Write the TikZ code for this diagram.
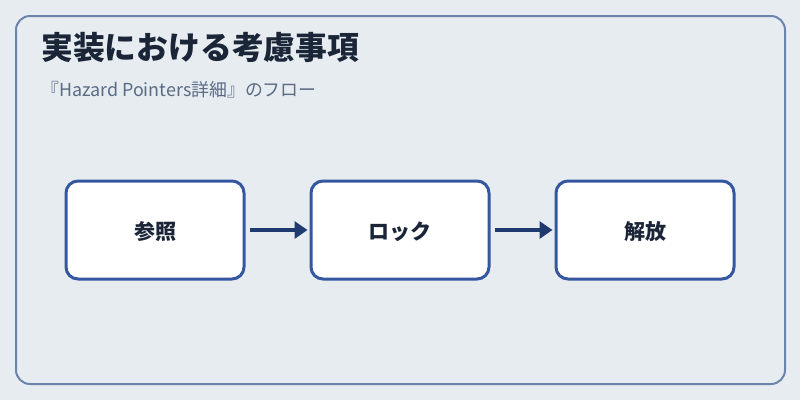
\documentclass[tikz,border=0pt]{standalone}
\usepackage{fontspec}
\setmainfont{Noto Sans CJK JP}
\usetikzlibrary{arrows.meta}
\definecolor{bgc}{HTML}{E7ECF1}
\definecolor{framec}{HTML}{6B84AE}
\definecolor{boxc}{HTML}{3557A0}
\definecolor{txtc}{HTML}{1A2538}
\definecolor{subc}{HTML}{5A6B85}
\definecolor{arrc}{HTML}{1F3A6E}
\tikzset{
  stepbox/.style={draw=boxc, line width=3pt, fill=white, rounded corners=12pt, minimum width=178pt, minimum height=98pt, inner sep=0pt, font=\fontsize{21}{24}\selectfont\bfseries, text=txtc},
  flow/.style={draw=arrc, line width=4pt, -{Triangle[length=13pt,width=17pt]}}
}
\begin{document}
\begin{tikzpicture}[x=1pt,y=-1pt]
\useasboundingbox (0,0) rectangle (800,400);
\fill[bgc] (0,0) rectangle (800,400);
\draw[framec, line width=2pt, rounded corners=14pt] (16,16) rectangle (785,384);
\node[anchor=base west, inner sep=0pt, text=txtc, font=\fontsize{31.8}{34}\selectfont\bfseries] (title) at (41,59) {実装における考慮事項};
\node[anchor=base west, inner sep=0pt, text=subc, font=\fontsize{17.9}{20}\selectfont] (sub) at (41,96) {『Hazard Pointers詳細』のフロー};
\node[stepbox] (a) at (155,230) {};
\node[stepbox] (b) at (400,230) {};
\node[stepbox] (c) at (645,230) {};
\node[anchor=base, inner sep=0pt, font=\fontsize{21}{24}\selectfont\bfseries, text=txtc] (ta) at (155,239) {参照};
\node[anchor=base, inner sep=0pt, font=\fontsize{21}{24}\selectfont\bfseries, text=txtc] (tb) at (400,239) {ロック};
\node[anchor=base, inner sep=0pt, font=\fontsize{21}{24}\selectfont\bfseries, text=txtc] (tc) at (645,239) {解放};
\draw[flow] ([xshift=4pt]a.east) -- ([xshift=-2pt]b.west);
\draw[flow] ([xshift=4pt]b.east) -- ([xshift=-2pt]c.west);
\end{tikzpicture}
\end{document}
